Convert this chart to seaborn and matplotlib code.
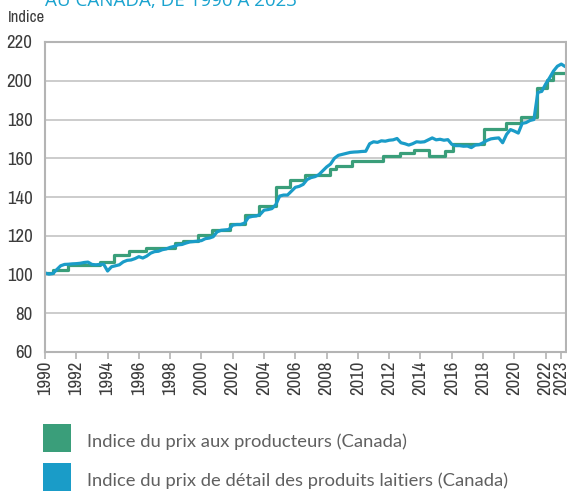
import matplotlib
matplotlib.use('Agg')
import numpy as np
import pandas as pd
import seaborn as sns
import matplotlib.pyplot as plt
from matplotlib.patches import Rectangle
from matplotlib import font_manager as fm

# === Data ===
# producer price index: year of each change and the new level (step series)
prod_years = [1990.0, 1990.5, 1991.5, 1993.5, 1994.4, 1995.4, 1996.45, 1998.3, 1998.8,
              1999.8, 2000.7, 2001.8, 2002.8, 2003.7, 2004.75, 2005.65, 2006.6,
              2008.2, 2008.6, 2009.6, 2011.6, 2012.7, 2013.6, 2014.55, 2015.55,
              2016.1, 2018.05, 2019.45, 2020.4, 2021.45, 2022.1, 2022.45, 2023.3]
prod_values = [101.0, 102.4, 105.0, 106.5, 110.2, 112.2, 113.9, 116.5, 117.4,
               120.2, 123.0, 126.0, 130.6, 135.3, 145.3, 149.0, 151.4,
               154.3, 156.0, 158.7, 161.0, 162.7, 164.4, 161.1, 163.5,
               167.2, 175.0, 178.3, 181.5, 196.4, 200.2, 204.2, 204.2]

# dairy retail price index, quarterly from 1990 Q1
retail_start = 1990
retail_values = [
    100.8, 100.2, 100.5, 102.5,   # 1990
    104.5, 105.2, 105.3, 105.5,   # 1991
    105.6, 105.8, 106.2, 106.4,   # 1992
    105.2, 105.0, 105.2, 105.3,   # 1993
    101.8, 104.0, 104.5, 105.0,   # 1994
    106.5, 107.3, 107.5, 108.2,   # 1995
    109.2, 108.5, 109.5, 111.0,   # 1996
    111.8, 112.0, 112.8, 113.2,   # 1997
    114.0, 114.5, 115.3, 115.5,   # 1998
    116.2, 116.8, 117.0, 117.2,   # 1999
    117.5, 118.5, 118.8, 119.5,   # 2000
    122.0, 122.8, 123.0, 123.2,   # 2001
    125.5, 125.8, 125.8, 126.5,   # 2002
    129.5, 130.0, 130.2, 131.0,   # 2003
    133.2, 133.5, 134.0, 136.0,   # 2004
    140.5, 141.0, 141.0, 143.0,   # 2005
    145.0, 145.5, 146.5, 149.0,   # 2006
    150.0, 150.5, 151.5, 153.5,   # 2007
    155.5, 157.0, 160.0, 161.5,   # 2008
    162.0, 162.5, 163.0, 163.2,   # 2009
    163.3, 163.5, 163.6, 167.5,   # 2010
    168.5, 168.2, 169.0, 168.8,   # 2011
    169.3, 169.5, 170.2, 168.0,   # 2012
    167.5, 166.8, 167.5, 168.5,   # 2013
    168.3, 168.5, 169.5, 170.5,   # 2014
    169.5, 169.8, 169.3, 169.6,   # 2015
    167.2, 166.5, 166.5, 166.2,   # 2016
    166.3, 165.5, 166.8, 167.0,   # 2017
    168.0, 169.2, 170.0, 170.3,   # 2018
    170.5, 168.0, 172.3, 174.8,   # 2019
    174.0, 173.0, 178.0, 178.4,   # 2020
    179.5, 180.0, 194.0, 194.5,   # 2021
    198.3, 201.5, 205.0, 207.5,   # 2022
    208.6, 207.3,                 # 2023
]

year_ticks = [1990, 1992, 1994, 1996, 1998, 2000, 2002, 2004, 2006, 2008,
              2010, 2012, 2014, 2016, 2018, 2020, 2022, 2023]
y_ticks = [60, 80, 100, 120, 140, 160, 180, 200, 220]

legend_labels = ['Indice du prix aux producteurs (Canada)',
                 'Indice du prix de détail des produits laitiers (Canada)']

green = '#3a9e7a'
blue = '#1a9cc8'
grey_txt = '#3c3c3c'

prod_df = pd.DataFrame({'year': prod_years, 'value': prod_values})
retail_df = pd.DataFrame({
    'year': retail_start + np.arange(len(retail_values)) / 4,
    'value': retail_values,
})


def narrow_font(size):
    # look for any condensed / narrow face, otherwise plain Liberation Sans
    cond = ('condensed', 'semi-condensed', 'extra-condensed', 'ultra-condensed')
    found = [f for f in fm.fontManager.ttflist
             if ('Narrow' in f.name or 'Condensed' in f.name or str(f.stretch) in cond)
             and f.style == 'normal' and f.weight in (400, 'normal', 'regular')]
    if found:
        found.sort(key=lambda f: f.name)
        return fm.FontProperties(fname=found[0].fname, size=size)
    return fm.FontProperties(family='Liberation Sans', size=size)


sns.set_theme(style='white')
plt.rcParams['font.family'] = ['Liberation Sans', 'DejaVu Sans']

fig = plt.figure(figsize=(5.67, 4.91), dpi=100)
ax = fig.add_axes([45 / 567, 139 / 491, 521 / 567, 310 / 491])

sns.lineplot(data=prod_df, x='year', y='value', drawstyle='steps-post',
             color=green, linewidth=2.3, ax=ax)
sns.lineplot(data=retail_df, x='year', y='value',
             color=blue, linewidth=2.3, ax=ax)

ax.set_xlim(1990, 2023.3)
ax.set_ylim(60, 220)
ax.set_yticks(y_ticks)
ax.set_xticks(year_ticks)
ax.set_xticklabels([str(y) for y in year_ticks], rotation=90)
ax.set_xlabel('')
ax.set_ylabel('')
ax.grid(axis='y', color='#c4c4c4', linewidth=1.2)
ax.set_axisbelow(True)
for side in ['left', 'bottom', 'top', 'right']:
    ax.spines[side].set_color('#b4b4b4')
    ax.spines[side].set_linewidth(1.5)
ax.tick_params(axis='y', length=0, pad=9, labelcolor=grey_txt)
ax.tick_params(axis='x', length=5, width=1.2, color='#b4b4b4', pad=1,
               labelcolor=grey_txt, bottom=True)

tick_fp = narrow_font(13.5)
for lab in ax.get_xticklabels() + ax.get_yticklabels():
    lab.set_fontproperties(tick_fp)

# header texts
fig.text(8 / 567, 1 - 18 / 491, 'Indice', color=grey_txt, va='center',
         fontproperties=narrow_font(12))
fig.text(45 / 567, 1 - 6 / 491, 'AU CANADA, DE 1990 À 2023', fontsize=13.5,
         color='#1aa3cf', va='baseline', family=['Open Sans', 'DejaVu Sans'])

# legend drawn below the plot
for i, (lab, col) in enumerate(zip(legend_labels, [green, blue])):
    top = 424 + i * 39
    fig.add_artist(Rectangle((43 / 567, 1 - (top + 28) / 491), 28 / 567, 28 / 491,
                             transform=fig.transFigure, color=col, lw=0))
    fig.text(87 / 567, 1 - (top + 18) / 491, lab, fontsize=13.2, color='#606060',
             va='center', family=['Lato', 'DejaVu Sans'])

plt.savefig('out.png', dpi=100)
